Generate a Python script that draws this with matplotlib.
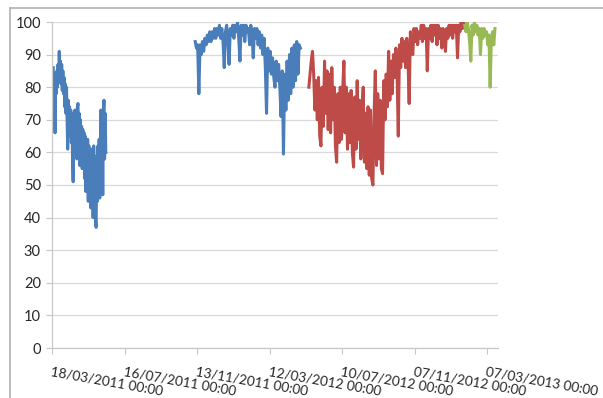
import numpy as np
import pandas as pd
import matplotlib
matplotlib.use('Agg')
import matplotlib.pyplot as plt
import matplotlib.dates as mdates
from matplotlib.lines import Line2D

# values, one list per coloured run
blue1_start = '2011-03-20'   # daily
blue1 = [86, 79, 84, 66, 82, 78, 85, 80, 87, 82, 91, 84, 88, 81, 87, 79, 85, 78,
         83, 74, 81, 72, 80, 70, 61, 76, 68, 74, 65, 73, 63, 72, 58, 51, 71, 60,
         73, 62, 70, 58, 74, 75, 60, 72, 56, 70, 58, 68, 55, 67, 57, 66, 52, 65,
         48, 63, 50, 64, 45, 62, 47, 60, 43, 61, 44, 60, 40, 62, 42, 58, 39, 37,
         59, 45, 62, 47, 64, 46, 60, 73, 48, 70, 47, 72, 76, 58, 72, 60]

blue2_start = '2011-11-10'   # every 2 days
blue2 = [94, 92, 93, 78, 93, 90, 94, 91, 95, 93, 96, 94, 97, 94, 97, 95, 98, 95,
         98, 96, 99, 95, 98, 94, 86, 97, 99, 94, 87, 98, 96, 99, 95, 99, 97, 100,
         95, 88, 99, 96, 99, 94, 99, 97, 98, 93, 99, 96, 89, 98, 95, 98, 93, 97,
         92, 96, 90, 95, 86, 72, 92, 85, 91, 84, 89, 83, 80, 88, 82, 87, 80, 71,
         85, 59.5, 84, 73, 88, 76, 90, 78, 92, 80, 93, 82, 94, 84, 93, 92]

red_start = '2012-05-16'     # every 2 days
red = [80, 84, 88, 91, 84, 73, 82, 70, 83, 65, 62, 80, 68, 88, 72, 85, 67, 84,
       66, 86, 70, 80, 62, 57, 78, 63, 80, 64, 79, 88, 66, 80, 61, 78, 63, 79,
       60, 55.5, 77, 61, 82, 64, 76, 58, 74, 80, 57, 72, 55, 74, 53, 73, 52, 50,
       72, 85, 56, 78, 58, 76, 55, 53.5, 82, 70, 84, 74, 91, 76, 88, 78, 90, 83,
       92, 84, 65, 93, 86, 95, 88, 94, 86, 95, 89, 75, 97, 93, 90, 98, 94, 98,
       93, 97, 95, 99, 94, 99, 95, 98, 85, 98, 95, 99, 94, 99, 96, 99, 93, 99,
       95, 98, 92, 98, 96, 91, 98, 95, 99, 96, 99, 95, 99, 97, 99, 89, 99, 97,
       100, 98, 100, 99]

green_start = '2013-01-29'   # every 2 days
green = [99, 97, 100, 98, 94, 88, 99, 96, 100, 97, 99, 96, 98, 90, 98, 95, 98,
         96, 97, 93, 96, 80, 95, 97, 93, 98]

series = [
    (blue1_start, '1D', blue1, '#4a7ebb'),
    (blue2_start, '2D', blue2, '#4a7ebb'),
    (red_start, '2D', red, '#be4b48'),
    (green_start, '2D', green, '#98b954'),
]

tick_dates = pd.date_range('2011-03-18', periods=7, freq='120D')
y_ticks = list(range(0, 101, 10))

fig = plt.figure(figsize=(6.03, 3.98), dpi=100)
ax = fig.add_axes([52 / 603, 1 - 348 / 398, 446 / 603, 326 / 398])

for start, step, vals, col in series:
    dates = pd.date_range(start, periods=len(vals), freq=step)
    ax.plot(dates, vals, color=col, lw=2.2)

ax.set_xlim(pd.Timestamp('2011-03-18'), pd.Timestamp('2013-03-25'))
ax.set_ylim(0, 100)
ax.set_yticks(y_ticks)
ax.set_xticks(tick_dates)
ax.xaxis.set_major_formatter(mdates.DateFormatter('%d/%m/%Y %H:%M'))
ax.grid(axis='y', color='#d9d9d9', lw=0.9)
ax.set_axisbelow(True)

for s in ['top', 'right']:
    ax.spines[s].set_visible(False)
for s in ['left', 'bottom']:
    ax.spines[s].set_color('#c8c8c8')
    ax.spines[s].set_linewidth(0.9)

ax.tick_params(axis='y', length=4, color='#c8c8c8', labelsize=10.5,
               labelcolor='#262626', pad=4)
ax.tick_params(axis='x', length=4, color='#c8c8c8', labelsize=9.8,
               labelcolor='#262626', pad=9)
for lab in ax.get_yticklabels():
    lab.set_fontfamily('Lato')
for lab in ax.get_xticklabels():
    lab.set_fontfamily('Lato')
    lab.set_rotation(-10)
    lab.set_ha('left')
    lab.set_va('top')
    lab.set_rotation_mode('anchor')

# outer chart border
fig.add_artist(Line2D([10 / 603, 1], [1 - 8 / 398, 1 - 8 / 398],
                      transform=fig.transFigure, color='#b0b0b0', lw=1.2))
fig.add_artist(Line2D([10 / 603, 10 / 603], [0, 1 - 8 / 398],
                      transform=fig.transFigure, color='#b0b0b0', lw=1.2))

fig.savefig('out.png', dpi=100)
